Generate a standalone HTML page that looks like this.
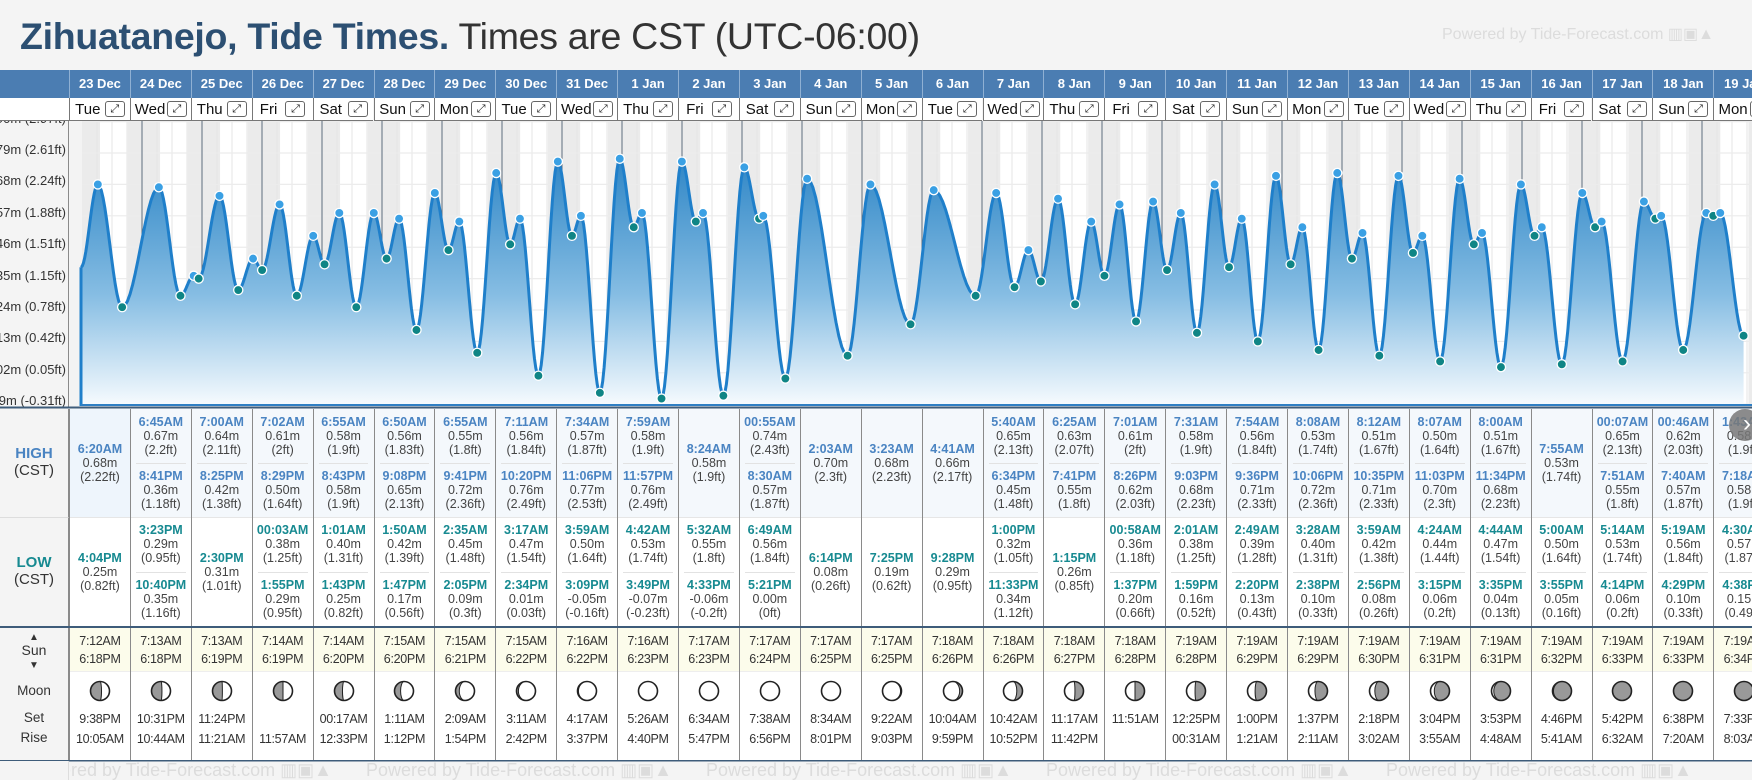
<!DOCTYPE html>
<html><head><meta charset="utf-8">
<style>
*{box-sizing:border-box;margin:0;padding:0}
body{width:1752px;height:780px;overflow:hidden;background:#f4f4f4;font-family:"Liberation Sans",Arial,sans-serif;position:relative;color:#333}
.a{position:absolute}
.title{left:20px;top:15px;font-size:37.5px;white-space:nowrap;color:#333;letter-spacing:-0.3px}
.title b{color:#2c4f72}
.pw{color:#dcdcdc;white-space:nowrap}
.dh{top:70px;height:28px;color:#fff;font-weight:bold;font-size:13px;text-align:center;line-height:28px;border-left:1px solid #8fb0d3}
.dn{top:98px;height:23px;background:#fff;border-left:1px solid #777;border-bottom:1px solid #777;display:flex;align-items:center;justify-content:space-around;font-size:15px;color:#111;padding:0 3px}
.ex{display:inline-block;width:20px;height:16px;border:1px solid #666;border-radius:3px;font-size:11px;line-height:14px;text-align:center;color:#222}
.cell{border-left:1px solid #8a8a8a;overflow:hidden}
.ent{position:absolute;left:0;right:0;text-align:center;font-size:12.5px;line-height:14px;color:#444}
.ent b{display:block;font-size:12.5px}
.hi b{color:#4a84c2}
.lo b{color:#178a91}
.sep{position:absolute;left:5px;right:5px;height:1px;background:#e2e2e2}
.lab{left:0;width:69px;text-align:center;color:#333;border-right:1px solid #8a8a8a}
.sm{font-size:12.5px;color:#333;text-align:center;line-height:18px;letter-spacing:-0.3px}
</style></head><body>
<div class="a title"><b>Zihuatanejo, Tide Times.</b> Times are CST (UTC-06:00)</div>
<div class="a pw" style="left:1442px;top:24px;font-size:16px">Powered by Tide-Forecast.com ▥▣▲</div>
<div class="a" style="left:0;top:70px;width:1752px;height:28px;background:#4b7db2"></div>
<div class="a" style="left:0;top:98px;width:69px;height:23px;background:#fff;border-bottom:1px solid #777"></div>
<div class="a" style="left:0;top:121px;width:69px;height:286px;background:#f4f4f4;border-right:1px solid #8a8a8a;overflow:hidden" id="ylab"></div>
<svg class="a" id="chart" style="left:0;top:0" width="1752" height="780"></svg>
<div id="tbl"></div>
<script>
const dates=["23 Dec","24 Dec","25 Dec","26 Dec","27 Dec","28 Dec","29 Dec","30 Dec","31 Dec","1 Jan","2 Jan","3 Jan","4 Jan","5 Jan","6 Jan","7 Jan","8 Jan","9 Jan","10 Jan","11 Jan","12 Jan","13 Jan","14 Jan","15 Jan","16 Jan","17 Jan","18 Jan","19 Jan"];
const dayNames=["Tue","Wed","Thu","Fri","Sat","Sun","Mon","Tue","Wed","Thu","Fri","Sat","Sun","Mon","Tue","Wed","Thu","Fri","Sat","Sun","Mon","Tue","Wed","Thu","Fri","Sat","Sun","Mon"];
const hiT=[["6:20AM"],["6:45AM","8:41PM"],["7:00AM","8:25PM"],["7:02AM","8:29PM"],["6:55AM","8:43PM"],["6:50AM","9:08PM"],["6:55AM","9:41PM"],["7:11AM","10:20PM"],["7:34AM","11:06PM"],["7:59AM","11:57PM"],["8:24AM"],["00:55AM","8:30AM"],["2:03AM"],["3:23AM"],["4:41AM"],["5:40AM","6:34PM"],["6:25AM","7:41PM"],["7:01AM","8:26PM"],["7:31AM","9:03PM"],["7:54AM","9:36PM"],["8:08AM","10:06PM"],["8:12AM","10:35PM"],["8:07AM","11:03PM"],["8:00AM","11:34PM"],["7:55AM"],["00:07AM","7:51AM"],["00:46AM","7:40AM"],["1:43AM","7:18AM"]];
const hiM=[[0.68],[0.67,0.36],[0.64,0.42],[0.61,0.50],[0.58,0.58],[0.56,0.65],[0.55,0.72],[0.56,0.76],[0.57,0.77],[0.58,0.76],[0.58],[0.74,0.57],[0.70],[0.68],[0.66],[0.65,0.45],[0.63,0.55],[0.61,0.62],[0.58,0.68],[0.56,0.71],[0.53,0.72],[0.51,0.71],[0.50,0.70],[0.51,0.68],[0.53],[0.65,0.55],[0.62,0.57],[0.58,0.58]];
const hiF=[["2.22"],["2.2","1.18"],["2.11","1.38"],["2","1.64"],["1.9","1.9"],["1.83","2.13"],["1.8","2.36"],["1.84","2.49"],["1.87","2.53"],["1.9","2.49"],["1.9"],["2.43","1.87"],["2.3"],["2.23"],["2.17"],["2.13","1.48"],["2.07","1.8"],["2","2.03"],["1.9","2.23"],["1.84","2.33"],["1.74","2.36"],["1.67","2.33"],["1.64","2.3"],["1.67","2.23"],["1.74"],["2.13","1.8"],["2.03","1.87"],["1.9","1.9"]];
const loT=[["4:04PM"],["3:23PM","10:40PM"],["2:30PM"],["00:03AM","1:55PM"],["1:01AM","1:43PM"],["1:50AM","1:47PM"],["2:35AM","2:05PM"],["3:17AM","2:34PM"],["3:59AM","3:09PM"],["4:42AM","3:49PM"],["5:32AM","4:33PM"],["6:49AM","5:21PM"],["6:14PM"],["7:25PM"],["9:28PM"],["1:00PM","11:33PM"],["1:15PM"],["00:58AM","1:37PM"],["2:01AM","1:59PM"],["2:49AM","2:20PM"],["3:28AM","2:38PM"],["3:59AM","2:56PM"],["4:24AM","3:15PM"],["4:44AM","3:35PM"],["5:00AM","3:55PM"],["5:14AM","4:14PM"],["5:19AM","4:29PM"],["4:30AM","4:38PM"]];
const loM=[[0.25],[0.29,0.35],[0.31],[0.38,0.29],[0.40,0.25],[0.42,0.17],[0.45,0.09],[0.47,0.01],[0.50,-0.05],[0.53,-0.07],[0.55,-0.06],[0.56,0.00],[0.08],[0.19],[0.29],[0.32,0.34],[0.26],[0.36,0.20],[0.38,0.16],[0.39,0.13],[0.40,0.10],[0.42,0.08],[0.44,0.06],[0.47,0.04],[0.50,0.05],[0.53,0.06],[0.56,0.10],[0.57,0.15]];
const loF=[["0.82"],["0.95","1.16"],["1.01"],["1.25","0.95"],["1.31","0.82"],["1.39","0.56"],["1.48","0.3"],["1.54","0.03"],["1.64","-0.16"],["1.74","-0.23"],["1.8","-0.2"],["1.84","0"],["0.26"],["0.62"],["0.95"],["1.05","1.12"],["0.85"],["1.18","0.66"],["1.25","0.52"],["1.28","0.43"],["1.31","0.33"],["1.38","0.26"],["1.44","0.2"],["1.54","0.13"],["1.64","0.16"],["1.74","0.2"],["1.84","0.33"],["1.87","0.49"]];
const sunRise=["7:12AM","7:13AM","7:13AM","7:14AM","7:14AM","7:15AM","7:15AM","7:15AM","7:16AM","7:16AM","7:17AM","7:17AM","7:17AM","7:17AM","7:18AM","7:18AM","7:18AM","7:18AM","7:19AM","7:19AM","7:19AM","7:19AM","7:19AM","7:19AM","7:19AM","7:19AM","7:19AM","7:19AM"];
const sunSet=["6:18PM","6:18PM","6:19PM","6:19PM","6:20PM","6:20PM","6:21PM","6:22PM","6:22PM","6:23PM","6:23PM","6:24PM","6:25PM","6:25PM","6:26PM","6:26PM","6:27PM","6:28PM","6:28PM","6:29PM","6:29PM","6:30PM","6:31PM","6:31PM","6:32PM","6:33PM","6:33PM","6:34PM"];
const moonSet=["9:38PM","10:31PM","11:24PM","","00:17AM","1:11AM","2:09AM","3:11AM","4:17AM","5:26AM","6:34AM","7:38AM","8:34AM","9:22AM","10:04AM","10:42AM","11:17AM","11:51AM","12:25PM","1:00PM","1:37PM","2:18PM","3:04PM","3:53PM","4:46PM","5:42PM","6:38PM","7:33PM"];
const moonRise=["10:05AM","10:44AM","11:21AM","11:57AM","12:33PM","1:12PM","1:54PM","2:42PM","3:37PM","4:40PM","5:47PM","6:56PM","8:01PM","9:03PM","9:59PM","10:52PM","11:42PM","","00:31AM","1:21AM","2:11AM","3:02AM","3:55AM","4:48AM","5:41AM","6:32AM","7:20AM","8:03AM"];
// gray fraction of moon disc; negative = shaded on left, positive = shaded on right
const moonShade=[-0.58,-0.55,-0.52,-0.5,-0.42,-0.32,-0.2,-0.1,-0.05,0,0,0,0,0.05,0.15,0.3,0.45,0.5,0.55,0.6,0.66,0.72,0.8,0.88,0.95,1,1,1];
const tickM=["0.90","0.79","0.68","0.57","0.46","0.35","0.24","0.13","0.02","-0.09"];
const tickFt=["2.97","2.61","2.24","1.88","1.51","1.15","0.78","0.42","0.05","-0.31"];
const curveStart=[-0.4,0.39];

const W=60.9,X0=69;
function colX(i){return X0+i*W;}
function yS(v){return 153+(0.79-v)*285.5;}
function xS(h){return 82+h/24*60;}
function parseT(s){const m=s.match(/(\d+):(\d+)(AM|PM)/);let h=(+m[1])%12;if(m[3]=="PM")h+=12;return h+(+m[2])/60;}
const NS="http://www.w3.org/2000/svg";
const svg=document.getElementById("chart");
function sv(tag,attrs,parent){const e=document.createElementNS(NS,tag);for(const k in attrs)e.setAttribute(k,attrs[k]);(parent||svg).appendChild(e);return e;}

const yl=document.getElementById("ylab");
tickM.forEach((m,k)=>{const d=document.createElement("div");


d.style.cssText="position:absolute;right:2px;white-space:nowrap;font-size:13px;color:#333;top:"+(yS(+m)-121-11)+"px";
d.textContent=m+"m ("+tickFt[k]+"ft)";yl.appendChild(d);});

const defs=sv("defs",{});
const cp=sv("clipPath",{id:"cp"},defs);sv("rect",{x:70,y:121,width:1682,height:285},cp);
const gr=sv("linearGradient",{id:"gf",x1:0,y1:0,x2:0,y2:1},defs);
sv("stop",{offset:"0","stop-color":"#2f86c6"},gr);sv("stop",{offset:"0.55","stop-color":"#86bde3"},gr);sv("stop",{offset:"1","stop-color":"#f7fbfe"},gr);
const g=sv("g",{"clip-path":"url(#cp)"});


sv("rect",{x:70,y:121,width:1682,height:285,fill:"#fff"},g);
sv("rect",{x:70,y:121,width:12,height:285,fill:"#f3f3f3"},g);
for(let d=0;d<29;d++){const sr=d<28?parseT(sunRise[d]):7.3,ss=d<28?parseT(sunSet[d]):18.6;
const n1=sv("rect",{x:xS(d*24),y:121,width:xS(d*24+sr)-xS(d*24),height:285,fill:"#ebebeb"},g);

const n2=sv("rect",{x:xS(d*24+ss),y:121,width:xS(d*24+24)-xS(d*24+ss),height:285,fill:"#ebebeb"},g);

for(let q=1;q<4;q++)sv("line",{x1:xS(d*24+q*6),x2:xS(d*24+q*6),y1:121,y2:406,stroke:"#e4e4e4","stroke-width":1},g);}
tickM.forEach(m=>{sv("line",{x1:82,x2:1752,y1:yS(+m),y2:yS(+m),stroke:"#ececec","stroke-width":1.2},g);});
for(let d=1;d<29;d++){const l=sv("line",{x1:xS(d*24),x2:xS(d*24),y1:121,y2:406,stroke:"#5d6d7e","stroke-width":1},g);
}
const ev=[];
for(let i=0;i<28;i++){hiT[i].forEach((s,k)=>ev.push({t:i*24+parseT(s),v:hiM[i][k],hi:1}));loT[i].forEach((s,k)=>ev.push({t:i*24+parseT(s),v:loM[i][k],hi:0}));}
ev.sort((a,b)=>a.t-b.t);
const pts=[{t:curveStart[0],v:curveStart[1]}].concat(ev);
let d="";
for(let k=0;k<pts.length-1;k++){const a=pts[k],b=pts[k+1];for(let s=0;s<=14;s++){const f=s/14;const t=a.t+(b.t-a.t)*f;const v=a.v+(b.v-a.v)*(1-Math.cos(Math.PI*f))/2;d+=(d?"L":"M")+xS(t).toFixed(2)+","+yS(v).toFixed(2);}}
const last=pts[pts.length-1];
const area=sv("path",{d:d+"L"+xS(last.t)+",406L"+xS(curveStart[0])+",406Z",fill:"url(#gf)"},g);


const ln=sv("path",{d:d,fill:"none",stroke:"#1f7fca","stroke-width":3,"stroke-linejoin":"round"},g);


const vl=sv("line",{x1:xS(curveStart[0]),x2:xS(curveStart[0]),y1:yS(curveStart[1]),y2:406,stroke:"#1f7fca","stroke-width":3},g);

ev.forEach(e=>{const c=sv("circle",{cx:xS(e.t),cy:yS(e.v),r:4.6,fill:e.hi?"#3aa0e4":"#0f8585",stroke:"#fff","stroke-width":1.3},g);

});
sv("line",{x1:81,x2:1752,y1:405,y2:405,stroke:"#2f7fc4","stroke-width":2});
sv("rect",{x:0,y:406.5,width:1752,height:2,fill:"#3e5c7a"});
sv("rect",{x:0,y:626,width:1752,height:2,fill:"#3e5c7a"});
sv("rect",{x:0,y:760,width:1752,height:1.5,fill:"#3e5c7a"});

const tb=document.getElementById("tbl");
function div(cls,css,html){const e=document.createElement("div");e.className="a "+cls;e.style.cssText=css;if(html!=null)e.innerHTML=html;tb.appendChild(e);return e;}
let e;
e=div("lab","top:409px;height:108px;background:#f4f4f4;padding-top:36px;font-size:15px","<b style='color:#4a84c2;font-size:15px'>HIGH</b><br>(CST)");


e=div("lab","top:517px;height:109px;background:#f4f4f4;padding-top:36px;font-size:15px;border-top:1px solid #ddd","<b style='color:#178a91;font-size:15px'>LOW</b><br>(CST)");


e=div("lab","top:628px;height:44px;background:#f4f4f4;padding-top:1px;font-size:14px;line-height:13px","<span style='font-size:10px'>▲</span><br>Sun<br><span style='font-size:10px'>▼</span>");


e=div("lab","top:672px;height:88px;background:#f4f4f4;font-size:13.5px;line-height:20px;padding-top:9px","Moon<br><div style='height:7px'></div>Set<br>Rise");


e=div("","left:69px;top:409px;width:1683px;height:108px;background:#f4f8fc");

e=div("","left:69px;top:517px;width:1683px;height:109px;background:#fff;border-top:1px solid #e6e6e6");

e=div("","left:69px;top:628px;width:1683px;height:44px;background:#fcfceb;border-bottom:1px solid #eee");

e=div("","left:69px;top:672px;width:1683px;height:88px;background:#fff");


function entries(cell,times,ms,fts,cls,h){
 const n=times.length;
 times.forEach((t,k)=>{const en=document.createElement("div");en.className="ent "+cls;
 const top=n==1?(h-42)/2:(k*h/2+(h/2-42)/2);
 en.style.top=top+"px";
 en.innerHTML="<b>"+t+"</b>"+ms[k].toFixed(2)+"m<br>("+fts[k]+"ft)";
 
 
 cell.appendChild(en);});
 if(n==2){const s=document.createElement("div");s.className="sep";s.style.top=(h/2)+"px";cell.appendChild(s);}
}
function moonSvg(f){
 const r=9.5,cx=15,cy=12;let p="";
 const a=Math.abs(f);
 if(a>=0.99)p="<circle cx='"+cx+"' cy='"+cy+"' r='"+r+"' fill='#999'/>";
 else if(a>0.01){const rx=Math.abs(1-2*a)*r;const left=f<0;
  const s1=left?0:1;
  let s2;
  if(left)s2=a<0.5?1:0;else s2=a<0.5?0:1;
  p="<path d='M"+cx+","+(cy-r)+" A"+r+","+r+" 0 0 "+s1+" "+cx+","+(cy+r)+" A"+rx+","+r+" 0 0 "+s2+" "+cx+","+(cy-r)+"Z' fill='#999'/>";
  p+="<path d='M"+cx+","+(cy-r)+" A"+rx+","+r+" 0 0 "+(1-s2)+" "+cx+","+(cy+r)+"' fill='none' stroke='#222' stroke-width='1'/>";}
 return "<svg width='30' height='24'>"+p+"<circle cx='"+cx+"' cy='"+cy+"' r='"+r+"' fill='none' stroke='#222' stroke-width='1.6'/></svg>";
}
for(let i=0;i<28;i++){
 const x=colX(i);
 e=div("dh","left:"+x+"px;width:"+W+"px",dates[i]);
 
 
 e=div("dn","left:"+x+"px;width:"+W+"px","<span>"+dayNames[i]+"</span>");
 
 
 const b=document.createElement("span");b.className="ex";b.textContent="⤢";
 
 
 e.appendChild(b);
 const hc=div("cell","left:"+x+"px;top:409px;width:"+W+"px;height:108px;"+(i==0?"background:#eef5fc":""));
 
 
 entries(hc,hiT[i],hiM[i],hiF[i],"hi",108);
 const lc=div("cell","left:"+x+"px;top:517px;width:"+W+"px;height:109px");
 
 
 entries(lc,loT[i],loM[i],loF[i],"lo",109);
 e=div("cell sm","left:"+x+"px;top:628px;width:"+W+"px;height:44px;padding-top:4px",sunRise[i]+"<br>"+sunSet[i]);
 
 
 e=div("cell sm","left:"+x+"px;top:672px;width:"+W+"px;height:88px;padding-top:7px;line-height:20px","<div style='height:24px'>"+moonSvg(moonShade[i])+"</div><div style='height:6px'></div>"+(moonSet[i]||"&nbsp;")+"<br>"+(moonRise[i]||"&nbsp;"));
 
 
}
for(let k=0;k<5;k++){e=div("pw","left:"+(26+k*340)+"px;top:761px;font-size:18px;line-height:19px;clip-path:inset(0 0 0 "+(k==0?44:0)+"px)","Powered by Tide-Forecast.com ▥▣▲");

}
e=div("","left:0;top:761px;width:69px;height:19px;background:#f4f4f4;border-right:1px solid #ddd");
e=div("","left:1729px;top:409px;width:32px;height:32px;border-radius:50%;background:rgba(120,120,120,0.85);color:#fff;font-size:24px;line-height:29px;text-align:center;padding-left:4px","›");


</script>
</body></html>
